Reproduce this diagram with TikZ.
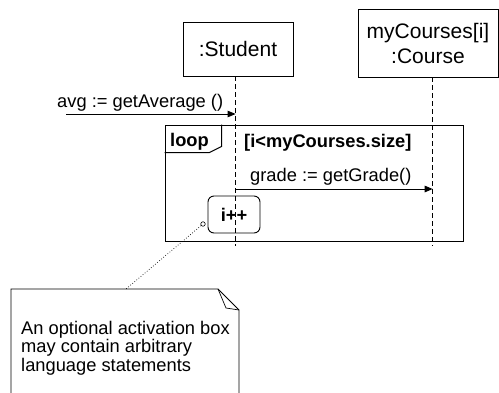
\documentclass[tikz,border=0pt]{standalone}
\usepackage{fontspec}
\setmainfont{Liberation Sans}
\usetikzlibrary{arrows.meta}
\begin{document}
\begin{tikzpicture}[x=1pt,y=-1pt,
  obj/.style={draw,line width=0.9pt,inner sep=0pt,align=center,
    font=\fontsize{21}{25}\selectfont},
  lifeline/.style={line width=0.8pt,dash pattern=on 5pt off 3pt},
  msg/.style={line width=0.9pt,-{Triangle[length=8pt,width=6.5pt]}},
  lbl/.style={inner sep=0pt,anchor=base west,font=\fontsize{18.3}{20}\selectfont},
  bold/.style={inner sep=0pt,anchor=base west,font=\fontsize{18.3}{20}\selectfont\bfseries},
  frame/.style={draw,line width=1pt,inner sep=0pt},
  notebox/.style={draw,line width=0.9pt},
]
\useasboundingbox (0,0) rectangle (499,392);

% participants
\node[obj,minimum width=110pt,minimum height=54pt] (student) at (238,49) {:Student};
\node[obj,minimum width=140pt,minimum height=68pt] (course) at (428,43)
  {myCourses[i]\\:Course};

% lifelines
\path (student.south) ++(-2.4,0) coordinate (sTop);
\path (course.south) ++(4.7,0) coordinate (cTop);
\coordinate (sBot) at (sTop |- 0,246);
\coordinate (cBot) at (cTop |- 0,246);
\draw[lifeline] (sTop) -- (sBot);
\draw[lifeline] (cTop) -- (cBot);

% incoming call
\coordinate (avgStart) at (66,114);
\coordinate (avgEnd) at (sTop |- avgStart);
\draw[msg] (avgStart) -- (avgEnd);
\node[lbl] (avgLbl) at (57,107.5) {avg := getAverage ()};

% loop combined fragment
\node[frame,minimum width=298pt,minimum height=116pt] (loop) at (314,183) {};
\draw[line width=1pt] (loop.north west) ++(0,28) -- ++(45,0) -- ++(12,-6) -- ++(0,-22);
\node[bold] (loopLbl) at (170,146) {loop};
\node[bold] (guard) at (244,147) {[i<myCourses.size]};

% call inside the loop
\coordinate (gStart) at (sTop |- 0,189);
\coordinate (gEnd) at (cTop |- 0,189);
\draw[msg] (gStart) -- (gEnd);
\node[lbl] (gradeLbl) at (250,181.5) {grade := getGrade()};

% activation with a statement
\node[draw,line width=0.9pt,rounded corners=6pt,minimum width=52pt,minimum height=37pt,
  inner sep=0pt,font=\fontsize{18.3}{20}\selectfont\bfseries] (inc) at (234,214.5) {i++};

% note and its anchor
\draw[notebox] (11,395) -- (11,289) -- (218,289) -- (239,310) -- (239,395);
\draw[line width=0.7pt] (218,289) -- (226,308) -- (239,310);
\coordinate (noteTop) at (126,289);
\node[draw,circle,line width=0.6pt,fill=white,inner sep=0pt,minimum size=4.5pt] (pin) at (203,224) {};
\draw[line width=0.7pt,dotted] (pin) -- (noteTop);
\node[lbl,align=left,font=\fontsize{18.3}{16.6}\selectfont] (noteText) at (21,371)
  {An optional activation box\\may contain arbitrary\\language statements};
\end{tikzpicture}
\end{document}
